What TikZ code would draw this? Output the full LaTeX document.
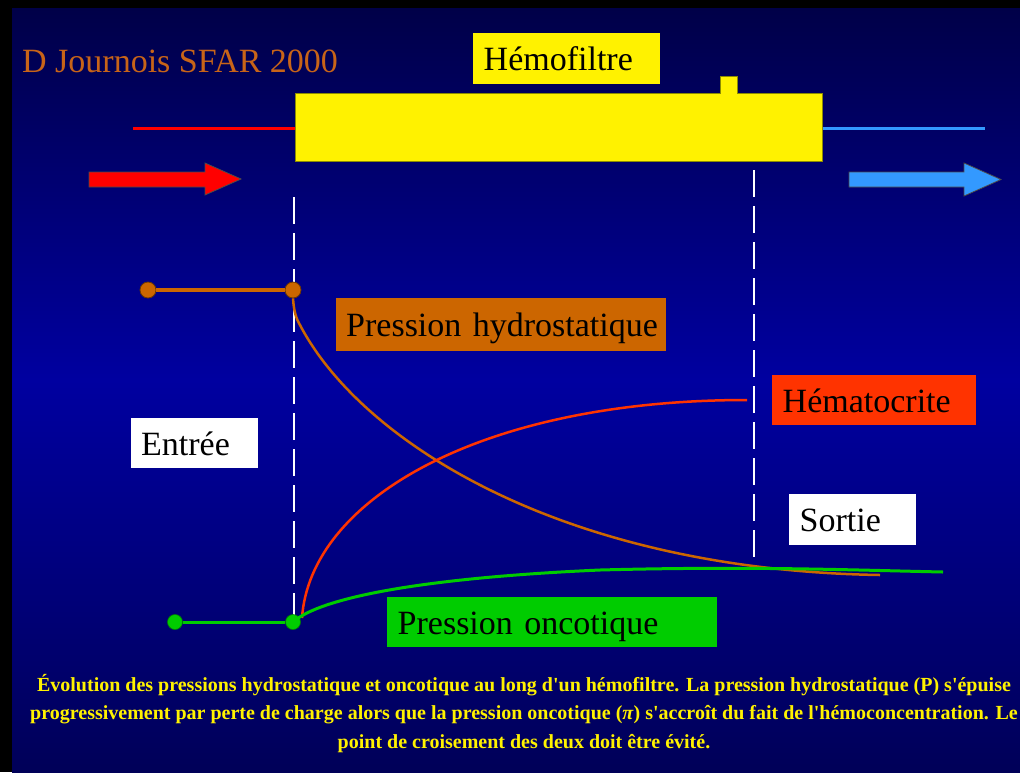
\documentclass[tikz,border=0pt]{standalone}
\usepackage{fontspec}
\setmainfont{Liberation Serif}
\newfontfamily\capfont{Liberation Serif}[Ligatures=TeXOff]
\begin{document}
\begin{tikzpicture}[x=1pt,y=-1pt,
  labelbox/.style={anchor=north west, inner xsep=10pt, inner ysep=0pt, align=left,
    text height=29pt, text depth=5pt,
    font=\fontsize{34}{40}\selectfont, text=black},
  odot/.style={circle, fill=hydro, draw=hydrodark, line width=0.8pt, minimum size=16pt, inner sep=0pt},
  gdot/.style={circle, fill=onco, draw=oncodark, line width=0.6pt, minimum size=15pt, inner sep=0pt},
  guide/.style={white, line width=2.5pt, dash pattern=on 27pt off 9pt},
  bigarrow/.style={draw=black!70, line width=0.8pt},
]
\definecolor{hydro}{RGB}{204,102,0}
\definecolor{hydrodark}{RGB}{110,55,0}
\definecolor{onco}{RGB}{0,204,0}
\definecolor{oncodark}{RGB}{0,130,0}
\definecolor{hemat}{RGB}{255,51,0}
\definecolor{inflow}{RGB}{255,0,0}
\definecolor{outflow}{RGB}{51,153,255}
\definecolor{author}{RGB}{200,100,24}
\definecolor{bgtop}{RGB}{0,0,72}
\definecolor{bgmid}{RGB}{0,0,160}
\definecolor{bgbot}{RGB}{0,0,88}
\definecolor{filterline}{RGB}{140,140,0}

% page and background: dark edges, brighter blue band in the middle
\useasboundingbox (0,0) rectangle (1020,772);
\fill[black] (0,0) rectangle (1020,772);
\shade[top color=bgtop, bottom color=bgmid] (12,8) rectangle (1020,380);
\shade[top color=bgmid, bottom color=bgbot] (12,379.5) rectangle (1020,772);

% author line
\node[anchor=base west, inner sep=0pt, text=author, font=\fontsize{34}{40}\selectfont] (author) at (22,72) {D Journois SFAR 2000};

% blood lines in and out of the filter
\coordinate (inA) at (133,128);
\coordinate (inB) at (295,128);
\coordinate (outA) at (822,128);
\coordinate (outB) at (985,128);
\draw[inflow, line width=3pt] (inA) -- (inB);
\draw[outflow, line width=3pt] (outA) -- (outB);

% haemofilter body with its ultrafiltrate port
\filldraw[fill=yellow, draw=filterline, line width=0.8pt]
  (295,93) -- (720,93) -- (720,76) -- (737,76) -- (737,93) -- (822,93)
  -- (822,161) -- (295,161) -- cycle;
\node[labelbox, fill=yellow, minimum width=187pt, minimum height=51pt, text width=166pt, inner xsep=10.5pt] (filtre) at (473,33) {Hémofiltre};

% flow direction arrows
\filldraw[fill=inflow, bigarrow] (89,172) -- (205,172) -- (205,163) -- (241,179) -- (205,195) -- (205,187) -- (89,187) -- cycle;
\filldraw[fill=outflow, bigarrow] (849,172) -- (964,172) -- (964,163) -- (1001,179.5) -- (964,196) -- (964,187) -- (849,187) -- cycle;

% entry and exit of the filter
\coordinate (gA1) at (294,197);
\coordinate (gA2) at (294,616);
\coordinate (gB1) at (754,170);
\coordinate (gB2) at (754,566);
\draw[guide] (gA1) -- (gA2);
\draw[guide] (gB1) -- (gB2);

% hydrostatic pressure
\node[odot] (o1) at (148,290) {};
\node[odot] (o2) at (293,290) {};
\draw[hydro, line width=4pt] (o1) -- (o2);
\draw[hydro, line width=2.5pt]
  (o2.south) .. controls (294,312) and (296,318) .. (300,325)
  .. controls (360,440) and (560,570) .. (880,575);

% haematocrit
\draw[hemat, line width=2.5pt]
  (302,618) .. controls (310,500) and (480,400) .. (747,400);

% oncotic pressure
\node[gdot] (g1) at (175,622) {};
\node[gdot] (g2) at (293,622) {};
\draw[onco, line width=3pt] (g1) -- (g2);
\draw[onco, line width=3pt]
  (g2.center) .. controls (320,598) and (420,578) .. (600,570)
  .. controls (750,566) and (850,570) .. (943,572);

% labels
\node[labelbox, fill=hydro, minimum width=330pt, minimum height=53pt, text width=310pt] (lhydro) at (336,298) {\mbox{Pression hydrostatique}};
\node[labelbox, fill=hemat, minimum width=204pt, minimum height=50pt, text width=183pt, inner xsep=10.5pt] (lhemat) at (772,375) {Hématocrite};
\node[labelbox, fill=white, minimum width=127pt, minimum height=50pt, text width=107pt] (lentree) at (131,418) {Entrée};
\node[labelbox, fill=white, minimum width=127pt, minimum height=51pt, text width=106pt, inner xsep=10.5pt] (lsortie) at (789,494) {Sortie};
\node[labelbox, fill=onco, minimum width=330pt, minimum height=50pt, text width=309pt, inner xsep=10.5pt] (lonco) at (387,597) {Pression oncotique};

% caption
\node[anchor=north, inner sep=0pt, align=center, text=yellow,
  font=\capfont\fontsize{20}{28.5}\selectfont\bfseries] (caption) at (524,674)
{Évolution des pressions hydrostatique et oncotique au long d'un hémofiltre. La pression hydrostatique (P) s'épuise\\
progressivement par perte de charge alors que la pression oncotique (\textit{π}) s'accroît du fait de l'hémoconcentration. Le\\
point de croisement des deux doit être évité.};
\end{tikzpicture}
\end{document}
